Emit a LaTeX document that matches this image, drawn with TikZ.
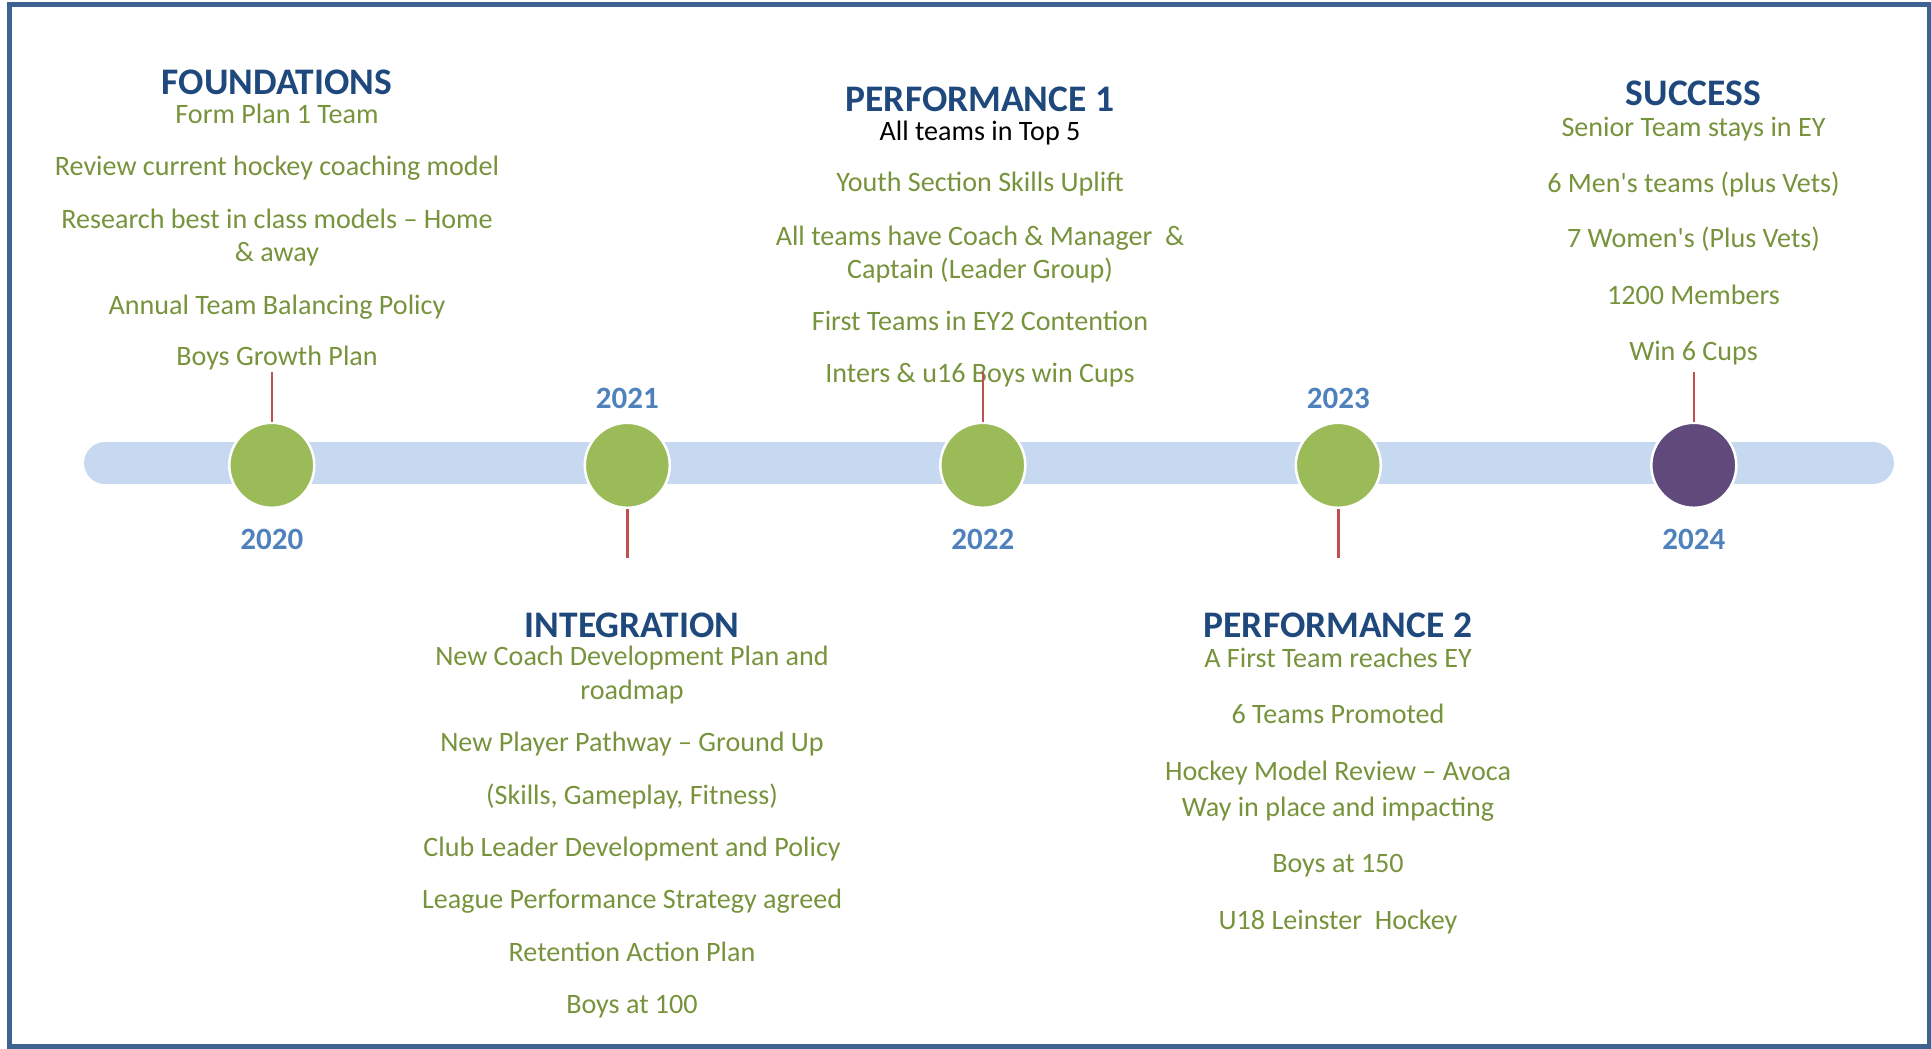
\documentclass[tikz,border=0pt]{standalone}
\usepackage{fontspec}
\setmainfont{Carlito}
\usetikzlibrary{backgrounds}
\definecolor{frameblue}{HTML}{3E6392}
\definecolor{barblue}{HTML}{C6D9F1}
\definecolor{headblue}{HTML}{1F497D}
\definecolor{yearblue}{HTML}{4F81BD}
\definecolor{itemgreen}{HTML}{77933C}
\definecolor{dotgreen}{HTML}{9BBB59}
\definecolor{dotpurple}{HTML}{604A7B}
\definecolor{stemred}{HTML}{C0504D}
\tikzstyle{phase} = [anchor=base, inner sep=0pt, text=headblue, font=\fontsize{37.5}{42}\selectfont\bfseries]
\tikzstyle{entry} = [anchor=base, inner sep=0pt, text=itemgreen, font=\fontsize{28.1}{34}\selectfont]
\tikzstyle{yearlab} = [anchor=base, inner sep=0pt, text=yearblue, font=\fontsize{31}{36}\selectfont\bfseries]
\tikzstyle{milestone} = [circle, draw=white, line width=2.5pt, minimum size=85pt, inner sep=0pt, fill=dotgreen]
\tikzstyle{stem} = [draw=stemred, line width=2.5pt]

\begin{document}
\begin{tikzpicture}[x=1pt,y=-1pt]
\useasboundingbox (0,0) rectangle (1931,1049);

\draw[line width=4.5pt, draw=frameblue] (9.5,4.3) rectangle (1928.8,1046.5);

% timeline bar
\draw[line width=41.5pt, line cap=round, draw=barblue] (104.8,463) -- (1873.2,463);

\node (c2020) [milestone] at (271.8,465.3) {};
\node (c2021) [milestone] at (627.3,465.3) {};
\node (c2022) [milestone] at (982.8,465.3) {};
\node (c2023) [milestone] at (1338.3,465.3) {};
\node (c2024) [milestone, fill=dotpurple] at (1693.8,465.3) {};

\node (y2020) [yearlab] at (271.8,549.3) {2020};
\node (y2021) [yearlab] at (627.3,408.3) {2021};
\node (y2022) [yearlab] at (982.8,549.3) {2022};
\node (y2023) [yearlab] at (1338.3,408.3) {2023};
\node (y2024) [yearlab] at (1693.8,549.3) {2024};

% foundations
\node (found) [phase] at (277,94.3) {FOUNDATIONS};
\node (found1) [entry] at (277,124) {Form Plan 1 Team};
\node (found2) [entry] at (277,175.7) {Review current hockey coaching model};
\node (found3) [entry] at (277,228.3) {Research best in class models – Home};
\node (found3b) [entry] at (277,261.7) {\& away};
\node (found4) [entry] at (277,314.3) {Annual Team Balancing Policy};
\node (found5) [entry] at (277,365.7) {Boys Growth Plan};

% integration
\node (integ) [phase] at (632,637.3) {INTEGRATION};
\node (integ1) [entry] at (632,665.7) {New Coach Development Plan and};
\node (integ1b) [entry] at (632,699) {roadmap};
\node (integ2) [entry] at (632,751.7) {New Player Pathway – Ground Up};
\node (integ3) [entry] at (632,804.3) {(Skills, Gameplay, Fitness)};
\node (integ4) [entry] at (632,856.7) {Club Leader Development and Policy};
\node (integ5) [entry] at (632,908.3) {League Performance Strategy agreed};
\node (integ6) [entry] at (632,961) {Retention Action Plan};
\node (integ7) [entry] at (632,1013.3) {Boys at 100};

% performance 1
\node (perfa) [phase] at (980,111.7) {PERFORMANCE 1};
\node (perfa0) [entry, text=black] at (980,140) {All teams in Top 5};
\node (perfa1) [entry] at (980,191.7) {Youth Section Skills Uplift};
\node (perfa2) [entry] at (980,245) {All teams have Coach \& Manager \ \&};
\node (perfa2b) [entry] at (980,278.3) {Captain (Leader Group)};
\node (perfa3) [entry] at (980,330.7) {First Teams in EY2 Contention};
\node (perfa4) [entry] at (980,382.7) {Inters \& u16 Boys win Cups};

% performance 2
\node (perfb) [phase] at (1338,637.3) {PERFORMANCE 2};
\node (perfb1) [entry] at (1338,667.3) {A First Team reaches EY};
\node (perfb2) [entry] at (1338,723.3) {6 Teams Promoted};
\node (perfb3) [entry] at (1338,780) {Hockey Model Review – Avoca};
\node (perfb3b) [entry] at (1338,816.7) {Way in place and impacting};
\node (perfb4) [entry] at (1338,872.7) {Boys at 150};
\node (perfb5) [entry] at (1338,929.3) {U18 Leinster \ Hockey};

% success
\node (succ) [phase] at (1693.5,105) {SUCCESS};
\node (succ1) [entry] at (1693.5,136) {Senior Team stays in EY};
\node (succ2) [entry] at (1693.5,192.3) {6 Men\textquotesingle s teams (plus Vets)};
\node (succ3) [entry] at (1693.5,247.7) {7 Women\textquotesingle s (Plus Vets)};
\node (succ4) [entry] at (1693.5,304.3) {1200 Members};
\node (succ5) [entry] at (1693.5,360) {Win 6 Cups};

% stems
\coordinate (t2020) at (271.8,372);
\coordinate (t2021) at (627.3,558.3);
\coordinate (t2022) at (982.8,372);
\coordinate (t2023) at (1338.3,558.3);
\coordinate (t2024) at (1693.8,372);
\draw[stem] (c2020.north) -- (t2020);
\draw[stem] (c2021.south) -- (t2021);
\draw[stem] (c2022.north) -- (t2022);
\draw[stem] (c2023.south) -- (t2023);
\draw[stem] (c2024.north) -- (t2024);

\end{tikzpicture}
\end{document}
